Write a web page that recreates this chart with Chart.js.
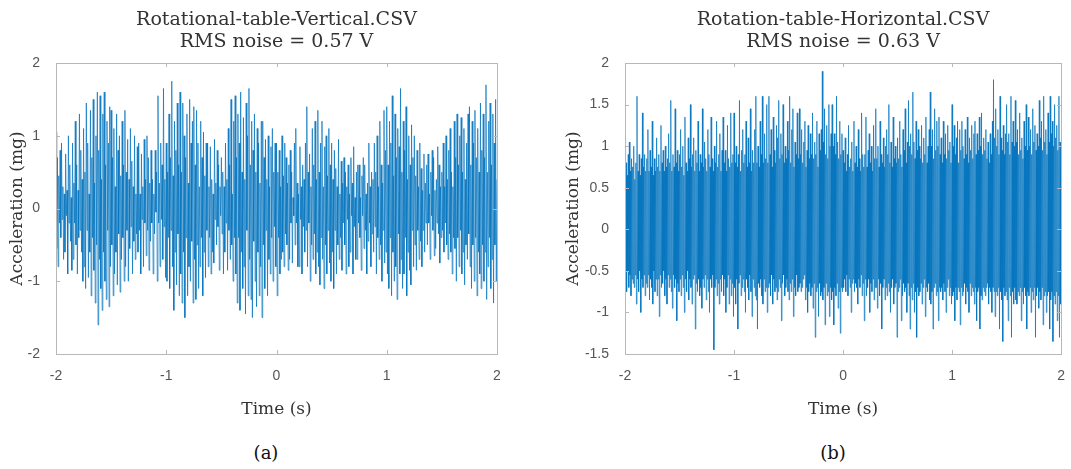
<!DOCTYPE html>
<html>
<head>
<meta charset="utf-8">
<script src="https://cdn.jsdelivr.net/npm/chart.js@4"></script>
<style>
  body { margin: 0; background: #fff; width: 1071px; height: 469px; position: relative; overflow: hidden; }
  .box { position: absolute; top: 0; height: 420px; }
  .cap { position: absolute; top: 442px; font: 18px "DejaVu Serif", serif; color: #111; transform: translateX(-50%); }
</style>
</head>
<body>
<div class="box" style="left:0;width:530px"><canvas id="chartVert"></canvas></div>
<div class="box" style="left:540px;width:531px"><canvas id="chartHorz"></canvas></div>
<div class="cap" style="left:266px">(a)</div>
<div class="cap" style="left:833px">(b)</div>
<script>
// Rotational table accel traces (mg), sampled evenly over -2..2 s

const titleVert = ['Rotational-table-Vertical.CSV', 'RMS noise = 0.57 V'];
const titleHorz = ['Rotation-table-Horizontal.CSV', 'RMS noise = 0.63 V'];
const xTicks = [-2, -1, 0, 1, 2];
const yTicksVert = [-2, -1, 0, 1, 2];
const yTicksHorz = [-1.5, -1, -0.5, 0, 0.5, 1, 1.5, 2];

const accelVert = [
  1.05, -0.55, 0.7, -0.8, 0.45, -0.2, 0.8, -0.4, 0.9, -0.15, 0.3, -0.7, 0.2, -0.6, 0.75, -0.1, 0.25, -0.9, 1.0, -0.2,
  0.6, -0.45, 0.15, -0.85, 0.9, -0.7, 0.35, -0.2, 1.2, -0.5, 0.6, -0.9, 0.25, -0.4, 1.3, -0.3, 0.8, -0.6, 0.4, -1.0,
  1.1, -0.8, 0.5, -1.1, 1.45, -0.3, 0.9, -0.95, 0.2, -0.6, 1.35, -1.2, 0.7, -0.4, 1.5, -0.85, 0.35, -1.3, 1.0, -0.5,
  1.6, -1.6, 0.8, -0.7, 1.55, -1.1, 0.4, -1.4, 1.3, -0.6, 1.6, -1.0, 0.6, -1.25, 1.2, -0.3, 0.9, -1.35, 1.4, -0.8,
  1.35, -0.5, 0.7, -1.2, 1.1, -0.9, 0.3, -0.6, 1.3, -1.05, 0.8, -0.35, 1.0, -1.15, 0.45, -0.7, 1.2, -0.4, 0.6, -1.0,
  1.35, -0.8, 0.5, -0.3, 0.95, -1.0, 0.4, -0.55, 1.1, -0.25, 0.65, -0.9, 0.3, -0.45, 1.0, -0.7, 0.2, -0.35, 0.85, -0.6,
  0.9, -0.3, 0.2, -0.9, 0.75, -0.15, 0.3, -0.8, 0.95, -0.2, 0.4, -0.65, 1.0, -0.3, 0.7, -0.85, 0.35, -0.45, 0.8, -0.2,
  0.4, -0.9, 0.2, -0.35, 0.8, -0.05, 0.5, -1.0, 1.55, -0.2, 0.35, -0.8, 0.9, -0.15, 0.6, -0.7, 1.65, -0.25, 0.4, -0.95,
  0.9, -1.0, 0.5, -0.4, 1.3, -1.1, 0.7, -0.3, 1.75, -0.8, 0.45, -1.4, 1.2, -0.6, 0.8, -1.05, 1.45, -0.35, 0.6, -1.2,
  1.6, -0.9, 0.5, -1.3, 1.45, -0.6, 1.0, -1.5, 0.7, -0.4, 1.3, -1.2, 0.35, -0.8, 1.5, -1.0, 0.9, -0.45, 1.2, -1.3,
  1.4, -0.7, 0.6, -1.25, 1.35, -0.5, 0.9, -1.1, 0.3, -0.8, 1.2, -0.4, 0.7, -1.2, 1.05, -0.6, 0.45, -0.95, 0.9, -0.3,
  0.9, -0.8, 0.3, -0.4, 0.85, -0.9, 0.4, -0.6, 0.2, -0.75, 0.95, -0.15, 0.35, -0.5, 0.8, -0.25, 0.6, -0.85, 0.3, -0.1,
  0.7, -0.35, 0.5, -0.9, 0.3, -0.6, 0.9, -0.2, 0.4, -0.85, 1.1, -0.3, 0.6, -0.7, 1.5, -0.5, 0.2, -1.0, 1.2, -0.4,
  1.55, -0.9, 0.7, -1.3, 1.3, -0.4, 0.9, -1.4, 1.6, -0.6, 0.5, -1.1, 1.25, -0.8, 0.4, -1.45, 1.45, -0.3, 1.0, -1.2,
  1.65, -0.7, 0.6, -1.25, 1.2, -1.5, 0.8, -0.45, 1.3, -1.0, 0.5, -1.35, 1.1, -0.6, 0.9, -1.2, 0.35, -0.8, 1.2, -1.5,
  1.2, -0.5, 0.7, -1.1, 0.95, -0.3, 0.4, -1.2, 1.0, -0.7, 0.3, -0.9, 0.85, -0.4, 1.1, -1.0, 0.5, -0.25, 0.9, -0.8,
  0.9, -1.2, 0.5, -0.4, 0.8, -0.9, 0.3, -0.7, 1.0, -0.6, 0.45, -0.8, 0.9, -0.35, 0.7, -0.5, 0.35, -0.85, 0.6, -0.7,
  0.8, -0.2, 0.5, -0.75, 0.15, -0.1, 0.9, -0.5, 1.1, -0.2, 0.35, -0.8, 0.2, -0.8, 0.85, -0.15, 0.3, -0.9, 0.6, -0.25,
  0.4, -0.6, 0.9, -0.3, 1.4, -0.8, 0.5, -0.2, 0.75, -1.0, 0.3, -0.5, 1.1, -0.7, 0.6, -0.35, 1.2, -0.9, 0.4, -0.6,
  1.35, -0.8, 0.5, -1.05, 0.9, -0.4, 1.2, -0.7, 0.3, -1.1, 0.85, -0.5, 1.0, -0.9, 0.45, -0.3, 1.1, -0.75, 0.6, -1.0,
  0.9, -0.6, 0.4, -1.1, 0.8, -0.3, 0.55, -0.9, 0.3, -0.5, 0.95, -0.7, 0.2, -0.4, 0.65, -0.85, 0.35, -0.2, 0.7, -0.5,
  0.5, -0.9, 0.3, -0.15, 0.6, -0.8, 0.2, -0.6, 0.7, -0.1, 0.35, -0.9, 0.85, -0.25, 0.15, -0.7, 0.5, -0.7, 0.6, -0.2,
  0.6, -0.4, 0.15, -0.85, 0.45, -0.1, 0.7, -0.55, 0.6, -0.3, 0.2, -0.9, 0.35, -0.45, 0.9, -0.2, 0.3, -0.8, 0.5, -0.35,
  0.4, -0.6, 0.9, -0.25, 0.5, -0.9, 1.0, -0.4, 0.3, -0.7, 1.2, -0.5, 0.6, -1.0, 0.35, -0.3, 1.35, -0.75, 0.8, -0.6,
  1.4, -0.9, 0.6, -1.1, 1.2, -0.4, 0.9, -1.2, 1.55, -0.6, 0.45, -1.0, 1.3, -0.8, 0.7, -1.25, 1.1, -0.35, 0.85, -0.9,
  1.65, -0.7, 0.5, -1.1, 1.2, -0.9, 0.8, -0.4, 1.4, -1.2, 0.4, -0.6, 1.0, -0.85, 0.6, -1.05, 1.15, -0.3, 0.7, -0.8,
  1.0, -0.5, 0.45, -0.85, 0.8, -0.3, 0.3, -0.7, 0.9, -0.45, 0.55, -0.8, 0.25, -0.3, 0.75, -0.6, 0.35, -0.2, 0.6, -0.5,
  0.75, -0.2, 0.2, -0.7, 0.5, -0.1, 0.8, -0.3, 0.7, -0.65, 0.25, -0.55, 0.4, -0.2, 0.85, -0.35, 0.6, -0.75, 0.3, -0.4,
  0.5, -0.3, 0.9, -0.6, 0.3, -0.2, 1.0, -0.5, 0.4, -0.7, 0.8, -0.35, 1.1, -0.6, 0.5, -0.9, 0.3, -0.4, 1.2, -0.55,
  0.7, -1.0, 1.3, -0.4, 0.6, -0.8, 1.0, -0.3, 1.25, -0.9, 0.5, -0.6, 1.1, -1.05, 0.4, -0.5, 0.9, -0.7, 1.3, -0.35,
  1.4, -0.8, 0.6, -1.1, 1.2, -0.5, 0.9, -1.0, 1.35, -0.4, 0.7, -1.2, 1.1, -0.6, 0.5, -0.9, 1.45, -1.1, 0.8, -0.5,
  1.3, -1.0, 0.7, -0.6, 1.7, -1.25, 0.5, -0.8, 1.2, -0.4, 1.45, -1.1, 0.6, -0.7, 1.3, -1.3, 0.9, -0.5, 1.5, -1.0,
  0.4
];

const accelHorz = [
  1.1, -0.6, 0.8, -0.75, 0.65, -0.5, 0.9, -0.7, 1.05, -0.55, 0.7, -0.8, 0.85, -0.6, 0.75, -0.65, 1.0, -0.7, 0.6, -0.55,
  0.8, -0.9, 1.6, -0.6, 0.7, -0.75, 0.9, -0.5, 0.65, -1.0, 0.85, -0.6, 1.4, -0.7, 0.75, -0.55, 0.9, -0.8, 0.7, -0.65,
  0.85, -0.7, 1.2, -0.55, 0.7, -0.85, 0.95, -0.6, 0.75, -0.7, 1.3, -0.9, 0.65, -0.5, 0.85, -0.75, 0.7, -0.6, 1.1, -0.8,
  0.75, -0.6, 0.9, -1.05, 0.7, -0.55, 1.25, -0.7, 0.8, -0.65, 0.95, -0.5, 0.7, -0.8, 1.0, -0.6, 0.75, -0.9, 0.85, -0.55,
  1.15, -0.7, 0.8, -0.6, 1.55, -0.75, 0.7, -0.95, 0.9, -0.55, 0.75, -0.7, 1.45, -0.6, 0.8, -1.1, 0.95, -0.65, 0.7, -0.75,
  0.9, -0.6, 1.2, -0.8, 0.75, -0.55, 1.0, -0.7, 0.65, -1.0, 1.35, -0.6, 0.8, -0.75, 0.7, -0.5, 1.1, -0.85, 0.85, -0.6,
  1.5, -0.7, 0.75, -0.9, 0.9, -0.6, 1.1, -0.55, 0.7, -1.2, 0.95, -0.65, 0.8, -0.75, 1.3, -0.6, 0.7, -0.8, 0.9, -0.7,
  0.8, -0.95, 1.45, -0.6, 0.75, -0.7, 1.05, -0.55, 0.85, -0.85, 0.7, -0.6, 1.2, -0.75, 0.9, -1.0, 0.75, -0.6, 1.35, -0.7,
  0.85, -0.55, 0.7, -1.45, 1.0, -0.7, 0.8, -0.6, 1.3, -0.8, 0.75, -0.65, 0.9, -0.9, 1.15, -0.6, 0.7, -0.75, 0.95, -0.55,
  1.35, -0.8, 0.8, -0.6, 0.95, -1.0, 0.7, -0.7, 1.25, -0.55, 0.85, -0.9, 0.75, -0.6, 1.4, -0.8, 0.8, -0.65, 0.9, -1.05,
  1.4, -0.7, 0.8, -0.9, 1.0, -0.6, 0.75, -1.2, 0.9, -0.65, 1.55, -0.55, 0.7, -0.8, 0.95, -0.7, 1.2, -0.6, 0.8, -0.75,
  0.9, -1.0, 1.3, -0.6, 0.75, -0.7, 1.1, -0.85, 0.8, -0.55, 1.45, -0.75, 0.7, -1.05, 0.95, -0.6, 0.8, -0.7, 1.2, -0.8,
  1.6, -0.85, 0.8, -1.2, 1.0, -0.65, 0.75, -0.7, 1.3, -0.6, 0.9, -0.8, 1.6, -0.9, 0.8, -0.6, 1.15, -0.75, 0.85, -0.7,
  1.5, -1.0, 0.8, -0.7, 1.6, -0.65, 0.9, -0.8, 1.2, -0.55, 0.75, -0.9, 1.35, -0.6, 0.95, -0.75, 0.8, -0.7, 1.25, -0.85,
  1.1, -0.75, 1.55, -0.6, 0.85, -0.7, 1.15, -1.1, 0.9, -0.65, 1.5, -0.55, 0.8, -0.8, 1.0, -0.7, 0.85, -0.6, 1.3, -0.75,
  0.95, -0.85, 1.6, -0.65, 0.8, -0.75, 1.2, -0.6, 1.45, -1.05, 0.75, -0.7, 1.05, -0.8, 0.9, -0.55, 1.4, -0.75, 0.85, -0.7,
  1.45, -0.65, 0.9, -0.75, 1.2, -0.7, 0.8, -0.6, 1.05, -0.55, 1.3, -0.85, 0.75, -0.7, 0.95, -1.0, 1.25, -0.75, 0.85, -0.65,
  1.15, -0.8, 0.9, -0.7, 1.4, -0.95, 0.85, -0.65, 1.05, -1.3, 0.9, -0.75, 1.3, -0.7, 0.75, -1.05, 1.15, -0.65, 0.95, -0.8,
  1.2, -0.75, 1.9, -0.85, 1.05, -0.7, 1.45, -1.15, 0.9, -0.65, 1.25, -0.8, 0.85, -0.75, 1.5, -1.05, 1.0, -0.7, 1.15, -0.85,
  1.5, -0.75, 1.0, -1.15, 1.15, -0.7, 0.9, -0.8, 1.6, -0.65, 1.05, -0.95, 0.85, -0.75, 1.3, -1.25, 0.9, -0.7, 1.15, -0.75,
  0.95, -0.7, 0.8, -0.6, 1.1, -0.75, 0.7, -0.55, 0.9, -0.8, 1.25, -0.6, 0.75, -0.7, 0.85, -1.0, 1.05, -0.65, 0.7, -0.6,
  1.3, -0.75, 0.8, -0.65, 1.0, -0.7, 0.75, -0.9, 1.2, -0.6, 0.85, -0.7, 0.7, -0.55, 1.4, -0.8, 0.9, -0.65, 0.75, -1.1,
  0.9, -0.6, 1.35, -0.8, 0.75, -0.7, 0.95, -0.6, 1.15, -1.0, 0.8, -0.65, 1.0, -0.75, 0.7, -0.6, 1.25, -0.85, 0.85, -0.7,
  1.45, -0.7, 0.85, -0.95, 1.0, -0.6, 0.75, -0.8, 1.3, -0.65, 0.9, -1.2, 0.8, -0.7, 1.1, -0.6, 0.75, -0.85, 1.0, -0.7,
  1.2, -0.8, 0.9, -0.65, 1.5, -0.75, 0.8, -1.0, 1.05, -0.7, 0.75, -0.6, 1.35, -0.9, 0.85, -0.7, 1.0, -0.65, 0.8, -1.3,
  1.1, -0.75, 0.85, -0.7, 1.3, -0.6, 0.9, -1.1, 0.75, -0.8, 1.2, -0.65, 0.95, -0.75, 1.45, -0.7, 0.8, -1.0, 1.05, -0.65,
  1.55, -0.8, 1.0, -1.2, 1.15, -0.7, 0.9, -0.85, 1.65, -0.65, 1.05, -1.0, 0.85, -0.75, 1.3, -1.3, 0.95, -0.7, 1.2, -0.8,
  1.0, -0.75, 0.85, -0.65, 1.25, -0.9, 0.8, -0.7, 1.1, -0.6, 0.9, -1.05, 1.35, -0.7, 0.8, -0.75, 1.0, -0.65, 1.2, -0.85,
  1.65, -0.9, 1.0, -0.75, 1.2, -1.2, 0.85, -0.7, 1.45, -0.65, 0.95, -0.8, 1.3, -0.75, 1.0, -1.1, 1.35, -0.7, 0.9, -0.75,
  1.1, -0.7, 0.8, -0.85, 1.3, -0.65, 0.9, -0.75, 1.15, -1.0, 0.85, -0.7, 1.25, -0.6, 0.95, -0.8, 1.05, -0.7, 0.8, -0.9,
  1.5, -0.8, 1.0, -0.75, 1.25, -1.1, 0.9, -0.7, 1.1, -0.85, 1.3, -0.7, 0.8, -0.75, 1.2, -1.15, 0.95, -0.7, 1.3, -0.8,
  1.0, -0.75, 0.85, -0.65, 1.2, -0.9, 0.9, -0.7, 1.35, -0.75, 0.8, -1.0, 1.1, -0.65, 0.95, -0.8, 1.25, -0.7, 0.85, -0.75,
  1.15, -0.9, 1.3, -0.7, 0.9, -1.1, 1.15, -0.75, 0.95, -0.7, 1.35, -1.2, 1.0, -0.8, 1.4, -0.85, 0.9, -0.7, 1.1, -0.75,
  0.95, -0.8, 1.2, -0.7, 0.85, -0.65, 1.05, -0.9, 0.8, -0.7, 1.15, -0.75, 0.9, -1.0, 1.3, -0.7, 1.8, -0.75, 1.1, -1.05,
  1.45, -0.75, 1.0, -0.8, 1.2, -0.7, 0.9, -1.2, 1.6, -0.75, 1.1, -0.85, 0.95, -1.35, 1.25, -0.7, 0.9, -0.8, 1.15, -0.75,
  1.5, -0.85, 1.05, -1.1, 1.15, -0.7, 0.9, -0.8, 1.6, -1.3, 1.05, -0.75, 1.3, -0.9, 1.0, -0.7, 1.55, -0.85, 1.05, -0.9,
  1.2, -0.75, 0.9, -0.8, 1.4, -0.7, 0.95, -1.1, 1.1, -0.75, 0.85, -0.9, 1.3, -0.7, 1.0, -0.8, 1.5, -1.2, 0.95, -0.75,
  1.35, -0.8, 1.0, -0.7, 1.2, -1.0, 0.9, -0.75, 1.45, -0.85, 1.05, -0.7, 1.25, -1.3, 0.95, -0.8, 1.15, -0.7, 1.0, -0.95,
  1.55, -0.75, 1.1, -0.85, 1.3, -0.7, 0.95, -1.15, 1.6, -0.8, 1.05, -0.75, 1.2, -1.0, 0.9, -0.8, 1.4, -0.75, 1.05, -1.2,
  1.6, -0.85, 1.15, -0.75, 1.3, -1.35, 1.0, -0.8, 1.5, -0.9, 1.1, -0.75, 1.25, -1.1, 0.95, -0.8, 1.6, -1.3, 1.05, -0.9,
  0.8
];

const LINE_BLUE = '#0072bd';
const FRAME = '#b8b8b8';
const TICK_TXT = '#555';
const SERIF = '"DejaVu Serif", "Liberation Serif", serif';
const SANS = '"Liberation Sans", Arial, sans-serif';

// samples are evenly spaced between -2 s and 2 s
function toPoints(vals) {
    const n = vals.length;
    return vals.map((v, i) => ({ x: -2 + 4 * i / (n - 1), y: v }));
}

// two-line heading + full box with inward ticks, matlab style
const boxPlugin = {
    id: 'boxPlugin',
    afterDraw(chart, args, opts) {
        const { ctx, chartArea: a, scales } = chart;
        ctx.save();
        ctx.strokeStyle = FRAME;
        ctx.lineWidth = 1;
        ctx.strokeRect(Math.round(a.left) + 0.5, Math.round(a.top) + 0.5, Math.round(a.right - a.left), Math.round(a.bottom - a.top));
        ctx.beginPath();
        scales.x.ticks.forEach(t => {
            const px = Math.round(scales.x.getPixelForValue(t.value)) + 0.5;
            ctx.moveTo(px, a.bottom); ctx.lineTo(px, a.bottom - 4);
            ctx.moveTo(px, a.top); ctx.lineTo(px, a.top + 4);
        });
        scales.y.ticks.forEach(t => {
            const py = Math.round(scales.y.getPixelForValue(t.value)) + 0.5;
            ctx.moveTo(a.left, py); ctx.lineTo(a.left + 4, py);
            ctx.moveTo(a.right, py); ctx.lineTo(a.right - 4, py);
        });
        ctx.stroke();

        ctx.fillStyle = '#333';
        ctx.font = '19px ' + SERIF;
        ctx.textAlign = 'center';
        ctx.textBaseline = 'middle';
        const cx = (a.left + a.right) / 2;
        (opts.lines || []).forEach((s, i) => ctx.fillText(s, cx, 20 + i * 22));
        ctx.restore();
    }
};

function makeChart(id, vals, heading, yTicks, yMin, yMax, axisW, titlePad, padRight) {
    const ctx = document.getElementById(id).getContext('2d');
    return new Chart(ctx, {
        type: 'line',
        data: {
            datasets: [{
                data: toPoints(vals),
                borderColor: LINE_BLUE,
                borderWidth: 0.7,
                pointRadius: 0,
                tension: 0,
                fill: false
            }]
        },
        options: {
            responsive: false,
            animation: false,
            layout: { padding: { top: 63, right: padRight, bottom: 0, left: 0 } },
            plugins: {
                legend: { display: false },
                tooltip: { enabled: false },
                boxPlugin: { lines: heading }
            },
            scales: {
                x: {
                    type: 'linear', min: -2, max: 2,
                    afterBuildTicks: s => { s.ticks = xTicks.map(v => ({ value: v })); },
                    afterFit: s => { s.height = 66; },
                    grid: { display: false },
                    border: { display: false },
                    ticks: { color: TICK_TXT, font: { family: SANS, size: 14 }, padding: 6, maxRotation: 0, callback: v => String(v) },
                    title: { display: true, text: 'Time (s)', color: '#333', font: { family: SERIF, size: 17 }, padding: { top: 8, bottom: 0 } }
                },
                y: {
                    min: yMin, max: yMax,
                    afterBuildTicks: s => { s.ticks = yTicks.map(v => ({ value: v })); },
                    afterFit: s => { s.width = axisW; },
                    grid: { display: false },
                    border: { display: false },
                    ticks: { color: TICK_TXT, font: { family: SANS, size: 14 }, padding: 8, callback: v => String(v) },
                    title: { display: true, text: 'Acceleration (mg)', color: '#333', font: { family: SERIF, size: 17 }, padding: { top: titlePad, bottom: 0 } }
                }
            }
        },
        plugins: [boxPlugin]
    });
}

document.getElementById('chartVert').width = 530;
document.getElementById('chartVert').height = 420;
document.getElementById('chartHorz').width = 531;
document.getElementById('chartHorz').height = 420;

makeChart('chartVert', accelVert, titleVert, yTicksVert, -2, 2, 56, 7, 33);
makeChart('chartHorz', accelHorz, titleHorz, yTicksHorz, -1.5, 2, 85, 23, 5);
</script>
</body>
</html>
